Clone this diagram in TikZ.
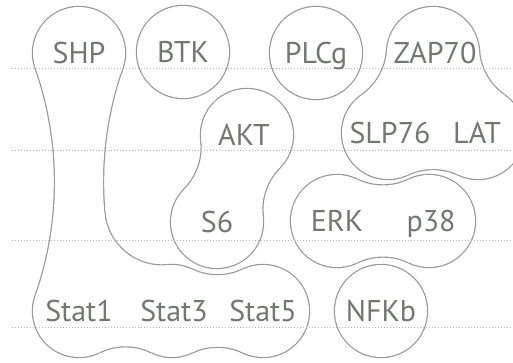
\documentclass[tikz,border=0pt]{standalone}
\usepackage{fontspec}
\setmainfont{PT Sans}
\usetikzlibrary{calc}

\definecolor{linegray}{RGB}{150,150,150}
\definecolor{txtgray}{RGB}{114,120,112}
\definecolor{dotgray}{RGB}{178,178,178}

% fillet circle #4 (radius #3) left of the discs #1 -> #2, discs have radius 46
\newcommand\fillet[4]{%
  \path let \p1 = ($(#2)-(#1)$),
            \n1 = {50*veclen(\x1/100,\y1/100)},
            \n2 = {100*sqrt(((46+#3)/100)^2-(\n1/100)^2)} in
    coordinate (#4) at ($(#1)!.5!(#2)!\n2!90:(#2)$);}
\newcommand\filletline[4]{%
  \begin{scope}
    \clip (#1) -- (#4) -- (#2) -- cycle;
    \draw[blob] (#4) circle[radius=#3pt];
  \end{scope}}
\newcommand\filletfill[4]{%
  \begin{scope}
    \clip (#1) -- (#4) -- (#2) -- cycle;
    \fill[white, even odd rule] (#1) -- (#4) -- (#2) -- cycle (#4) circle[radius=#3pt];
  \end{scope}}

\def\discs{shp,btk,plcg,zap,slp,lat,akt,s6,erk,p38,st1,st3,st5,nfkb}
\def\fillets{shp/st1/343/neckr, st1/shp/343/neckl,
  akt/s6/60/f1, s6/akt/60/f2, erk/p38/60/f3, p38/erk/60/f4,
  st1/st3/60/f5, st3/st1/60/f6, st3/st5/60/f7, st5/st3/60/f8,
  slp/zap/60/f9, lat/slp/60/f10, zap/lat/60/f11}

\begin{document}
\begin{tikzpicture}[x=1pt, y=-1pt,
  blob/.style={draw=linegray, line width=2.4pt},
  protein/.style={text=txtgray, font=\fontsize{30}{30}\selectfont,
    inner sep=0pt, text height=21pt, text depth=0pt},
  guide/.style={dotgray, line width=1pt, dash pattern=on 1pt off 2pt}]
\useasboundingbox (0,0) rectangle (513,363);

% disc centres
\coordinate (shp) at (79,53);
\coordinate (btk) at (183,52);
\coordinate (plcg) at (316,53);
\coordinate (zap) at (433,53);
\coordinate (slp) at (388,133);
\coordinate (lat) at (478,133);
\coordinate (akt) at (247,135);
\coordinate (s6) at (217,222);
\coordinate (erk) at (337,221);
\coordinate (p38) at (429,221);
\coordinate (st1) at (79,311);
\coordinate (st3) at (172,311);
\coordinate (st5) at (263,311);
\coordinate (nfkb) at (381,311);

\foreach \ca/\cb/\rad/\nm in \fillets {\fillet{\ca}{\cb}{\rad}{\nm}}

% neck bends into Stat3
\coordinate (g) at (162.1,207.5);
\coordinate (g1) at ($(neckr)!343pt!(g)$);
\coordinate (g2) at ($(g)!58pt!(st3)$);
\coordinate (q1) at ($(g)!1.5!(g1)$);
\coordinate (q2) at ($(g)!1.5!(g2)$);

% outlines
\foreach \disc in \discs \draw[blob] (\disc) circle[radius=46pt];
\foreach \ca/\cb/\rad/\nm in \fillets {\filletline{\ca}{\cb}{\rad}{\nm}}
\begin{scope}
  \clip (g) -- (q1) -- (st1) -- (q2) -- cycle;
  \draw[blob] (g) circle[radius=58pt];
\end{scope}

% white insides hide the inner half of every outline
\foreach \disc in \discs \fill[white] (\disc) circle[radius=46pt];
\foreach \ca/\cb/\rad/\nm in \fillets {\filletfill{\ca}{\cb}{\rad}{\nm}}
\fill[white] (zap) -- (slp) -- (lat) -- cycle;
\begin{scope}
  \clip (g) -- (q1) -- (st1) -- (q2) -- cycle;
  \fill[white, even odd rule] (g) -- (q1) -- (st1) -- (q2) -- cycle
    (g) circle[radius=58pt];
\end{scope}

% dotted rows
\foreach \y in {69,150.5,240,327.5} \draw[guide] (12,\y) -- (513,\y);

\node[protein] (SHP) at (shp) {SHP};
\node[protein] (BTK) at (btk) {BTK};
\node[protein] (PLCg) at (plcg) {PLCg};
\node[protein] (ZAP) at ($(zap)+(2,0)$) {ZAP70};
\node[protein] (SLP) at ($(slp)+(2,0)$) {SLP76};
\node[protein] (LAT) at ($(lat)-(1,0)$) {LAT};
\node[protein] (AKT) at ($(akt)-(3,0)$) {AKT};
\node[protein] (S6) at (s6) {S6};
\node[protein] (ERK) at (erk) {ERK};
\node[protein] (P38) at ($(p38)+(2,0)$) {p38};
\node[protein] (STA) at (st1) {Stat1};
\node[protein] (STB) at ($(st3)+(2,0)$) {Stat3};
\node[protein] (STC) at (st5) {Stat5};
\node[protein] (NFKB) at (nfkb) {NFKb};
\end{tikzpicture}
\end{document}
